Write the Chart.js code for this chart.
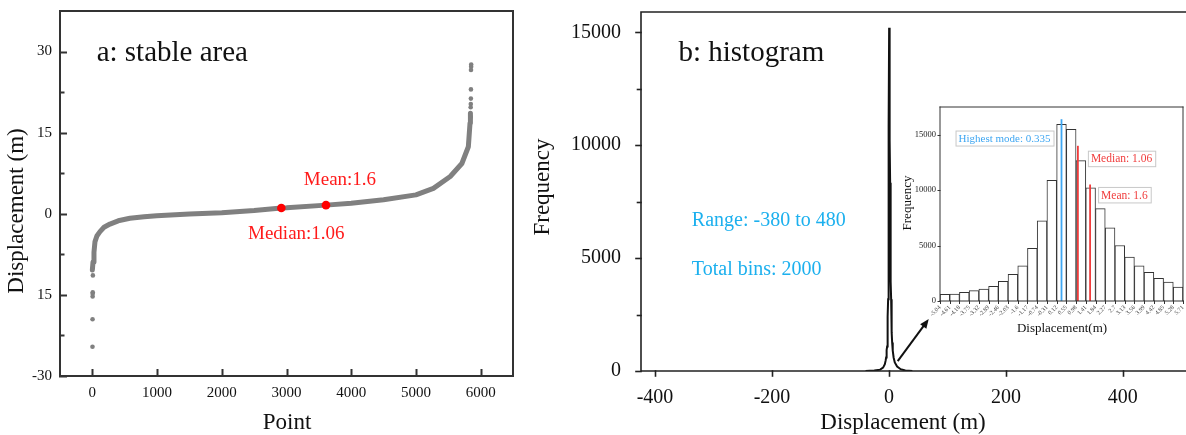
<!DOCTYPE html>
<html>
<head>
<meta charset="utf-8">
<script src="https://cdn.jsdelivr.net/npm/chart.js@4.4.0/dist/chart.umd.min.js"></script>
<style>
  html, body { margin: 0; padding: 0; background: #fff; }
  #wrap { position: relative; width: 1186px; height: 435px; overflow: hidden; background: #fff; }
  .box { position: absolute; }
</style>
</head>
<body>
<div id="wrap">
  <div class="box" style="left:0;top:0;width:520px;height:435px"><canvas id="stableChart"></canvas></div>
  <div class="box" style="left:520px;top:0;width:666px;height:435px"><canvas id="histChart"></canvas></div>
  <div class="box" style="left:880px;top:100px;width:306px;height:240px"><canvas id="insetChart"></canvas></div>
</div>
<script>
// ---- a: stable area (sorted displacement per point) ----
const curvePoint = [0, 10, 25, 40, 70, 118, 180, 272, 400, 580, 800, 994, 1500, 2000, 2500, 2920, 3000, 3610, 4000, 4500, 5000, 5270, 5530, 5710, 5810, 5836, 5842];
const curveDisp  = [-10.4, -8.9, -7.1, -5.2, -4.1, -3.3, -2.5, -1.9, -1.3, -0.83, -0.55, -0.35, -0.05, 0.2, 0.6, 1.06, 1.1, 1.6, 1.95, 2.6, 3.5, 4.7, 6.9, 9.3, 12.4, 16.8, 18.6];
const lowOutPoint  = [2, 3, 4, 5, 6, 8];
const lowOutDisp   = [-24.6, -19.5, -15.3, -14.8, -14.5, -11.4];
const highOutPoint = [5845, 5846, 5848, 5849, 5850, 5851, 5853, 5854];
const highOutDisp  = [17.9, 19.7, 20.3, 21.3, 23.0, 26.6, 27.2, 27.6];
const statNames = ['Median:1.06', 'Mean:1.6'];
const statPoint = [2920, 3610];
const statDisp  = [1.06, 1.6];
const pointTicks = [0, 1000, 2000, 3000, 4000, 5000, 6000];
const dispTicks = [-30, -15, 0, 15, 30];
const dispTickLabels = ['-30', '15', '0', '15', '30'];
const dispMinor = [-22.5, -7.5, 7.5, 22.5];

// ---- b: histogram, 2000 bins from -380 to 480 ----
const binEdges = [-5.04, -4.61, -4.18, -3.75, -3.32, -2.89, -2.46, -2.03, -1.6, -1.17, -0.74, -0.31, 0.12, 0.55, 0.98, 1.41, 1.84, 2.27, 2.7, 3.13, 3.56, 3.99, 4.42, 4.85, 5.28, 5.71];
const binFreq = [600, 630, 780, 930, 1080, 1320, 1770, 2400, 3180, 4740, 7230, 10890, 15930, 15480, 12660, 10200, 8340, 6600, 5010, 3960, 3180, 2580, 2040, 1710, 1260];
const mainPeakFreq = [600, 630, 780, 930, 1080, 1320, 1770, 2400, 3180, 4740, 7230, 10890, 15200, 15000, 12660, 10200, 8340, 6600, 5010, 3960, 3180, 2580, 2040, 1710, 1260];
const leftTailDisp  = [-40, -25, -15, -10, -7, -5.5];
const leftTailFreq  = [0, 20, 60, 150, 300, 480];
const rightTailDisp = [6.5, 8, 10, 14, 20, 28, 40];
const rightTailFreq = [900, 600, 380, 200, 80, 25, 0];
const histTicks = [-400, -200, 0, 200, 400];
const freqTicks = [0, 5000, 10000, 15000];
const freqMinor = [2500, 7500, 12500];
const markerNames  = ['Highest mode: 0.335', 'Median: 1.06', 'Mean: 1.6'];
const markerValues = [0.335, 1.06, 1.6];
const markerTops   = [16400, 14000, 10500];

const serif = '"Liberation Serif", "Times New Roman", serif';
const ink = '#111';

const binCenters = binEdges.slice(0, -1).map((e, i) => +((e + binEdges[i + 1]) / 2).toFixed(3));
const mainDisp = leftTailDisp.concat(binCenters, rightTailDisp);
const mainFreq = leftTailFreq.concat(mainPeakFreq, rightTailFreq);

// frame + tick marks drawn from the scales
const axisDecor = {
  id: 'axisDecor',
  afterDraw(chart, args, opts) {
    const ctx = chart.ctx;
    const { left, right, top, bottom } = chart.chartArea;
    ctx.save();
    ctx.strokeStyle = opts.color;
    ctx.lineWidth = opts.width;
    ctx.lineCap = 'square';
    (opts.ticks || []).forEach(t => {
      const scale = chart.scales[t.axis];
      const sign = t.dir === 'in' ? 1 : -1;
      const mark = (v, len) => {
        const p = Math.round(scale.getPixelForValue(v)) + 0.5;
        ctx.beginPath();
        if (scale.isHorizontal()) { ctx.moveTo(p, bottom); ctx.lineTo(p, bottom - sign * len); }
        else { ctx.moveTo(left, p); ctx.lineTo(left + sign * len, p); }
        ctx.stroke();
      };
      ctx.lineWidth = t.lineWidth || opts.width;
      scale.ticks.forEach(tk => mark(tk.value, t.len));
      (t.minor || []).forEach(v => mark(v, t.minorLen));
    });
    ctx.lineWidth = opts.width;
    ctx.beginPath();
    const s = opts.sides;
    if (s.includes('l')) { ctx.moveTo(left, top); ctx.lineTo(left, bottom); }
    if (s.includes('r')) { ctx.moveTo(right, top); ctx.lineTo(right, bottom); }
    if (s.includes('t')) { ctx.moveTo(left, top); ctx.lineTo(right, top); }
    if (s.includes('b')) { ctx.moveTo(left, bottom); ctx.lineTo(right, bottom); }
    ctx.stroke();
    ctx.restore();
  }
};

// free text, boxes and the arrow
const notes = {
  id: 'notes',
  afterDraw(chart, args, opts) {
    const ctx = chart.ctx;
    const xs = chart.scales.x, ys = chart.scales.y;
    if (opts.arrow) {
      const a = opts.arrow;
      const x0 = xs.getPixelForValue(a.from[0]), y0 = ys.getPixelForValue(a.from[1]);
      const x1 = xs.getPixelForValue(a.to[0]), y1 = ys.getPixelForValue(a.to[1]);
      const ang = Math.atan2(y1 - y0, x1 - x0);
      ctx.save();
      ctx.strokeStyle = ink; ctx.fillStyle = ink; ctx.lineWidth = 2;
      ctx.beginPath(); ctx.moveTo(x0, y0); ctx.lineTo(x1 - 6 * Math.cos(ang), y1 - 6 * Math.sin(ang)); ctx.stroke();
      ctx.beginPath();
      ctx.moveTo(x1, y1);
      ctx.lineTo(x1 - 10 * Math.cos(ang - 0.4), y1 - 10 * Math.sin(ang - 0.4));
      ctx.lineTo(x1 - 10 * Math.cos(ang + 0.4), y1 - 10 * Math.sin(ang + 0.4));
      ctx.closePath(); ctx.fill();
      ctx.restore();
    }
    (opts.items || []).forEach(n => {
      let px, py;
      if (n.px !== undefined) { px = n.px; py = n.py; }
      else { px = xs.getPixelForValue(n.x) + (n.dx || 0); py = ys.getPixelForValue(n.y) + (n.dy || 0); }
      ctx.save();
      ctx.font = n.size + 'px ' + serif;
      ctx.fillStyle = n.color || ink;
      ctx.textBaseline = 'middle';
      ctx.translate(px, py);
      if (n.rotate) ctx.rotate(n.rotate);
      let align = n.align || 'left';
      if (n.box) {
        const w = ctx.measureText(n.text).width;
        const pad = 3, h = n.size + 4;
        const bx = align === 'right' ? -w - 2 * pad : 0;
        ctx.fillStyle = '#fff';
        ctx.fillRect(bx, -h / 2, w + 2 * pad, h);
        ctx.strokeStyle = '#c8c8c8'; ctx.lineWidth = 1;
        ctx.strokeRect(bx + 0.5, -h / 2 + 0.5, w + 2 * pad, h);
        ctx.fillStyle = n.color;
        ctx.textAlign = 'left';
        ctx.fillText(n.text, bx + pad, 1);
      } else {
        ctx.textAlign = align;
        ctx.fillText(n.text, 0, 0);
      }
      ctx.restore();
    });
  }
};

Chart.register(axisDecor, notes);

const hiddenGrid = { display: false, drawTicks: false };
// fixed scale box, no label overhang padding
const fixBox = (w, h) => s => {
  if (w !== null) s.width = w;
  if (h !== null) s.height = h;
  s.paddingTop = 0; s.paddingBottom = 0; s.paddingLeft = 0; s.paddingRight = 0;
};
const plain = v => String(v);

// ---------- panel a ----------
new Chart(document.getElementById('stableChart'), {
  type: 'scatter',
  data: {
    datasets: [
      { data: statPoint.map((p, i) => ({ x: p, y: statDisp[i] })), pointRadius: 4.3, backgroundColor: '#ff0000', borderWidth: 0 },
      { data: lowOutPoint.map((p, i) => ({ x: p, y: lowOutDisp[i] })).concat(highOutPoint.map((p, i) => ({ x: p, y: highOutDisp[i] }))),
        pointRadius: 2.3, backgroundColor: '#808080', borderWidth: 0 },
      { data: curvePoint.map((p, i) => ({ x: p, y: curveDisp[i] })), showLine: true, borderColor: '#808080', borderWidth: 5,
        borderCapStyle: 'round', borderJoinStyle: 'round', pointRadius: 0, tension: 0 }
    ]
  },
  options: {
    responsive: true, maintainAspectRatio: false, animation: false, events: [],
    layout: { padding: { top: 11, right: 7, left: 0, bottom: 0 } },
    plugins: {
      legend: { display: false }, tooltip: { enabled: false },
      axisDecor: { color: '#333', width: 2, sides: 'lrtb',
        ticks: [ { axis: 'x', dir: 'in', len: 6 }, { axis: 'y', dir: 'in', len: 6, minor: dispMinor, minorLen: 3.5 } ] },
      notes: { items: [
        { text: 'a: stable area', x: 66, y: 29.7, size: 29 },
        { text: statNames[1], x: statPoint[1], y: statDisp[1], dx: 14, dy: -25, size: 19, color: '#ff1a1a', align: 'center' },
        { text: statNames[0], x: statPoint[0], y: statDisp[0], dx: 15, dy: 26, size: 19, color: '#ff1a1a', align: 'center' },
        { text: 'Displacement (m)', px: 17, py: 211, rotate: -Math.PI / 2, size: 23, align: 'center' },
        { text: 'Point', px: 287, py: 423, size: 23, align: 'center' }
      ] }
    },
    scales: {
      x: { type: 'linear', min: -500, max: 6500,
        afterBuildTicks: s => { s.ticks = pointTicks.map(v => ({ value: v })); },
        afterFit: fixBox(null, 59),
        grid: hiddenGrid, border: { display: false },
        ticks: { font: { family: serif, size: 15 }, color: ink, padding: 8, maxRotation: 0, autoSkip: false, callback: plain } },
      y: { type: 'linear', min: -30, max: 37.5,
        afterBuildTicks: s => { s.ticks = dispTicks.map(v => ({ value: v })); },
        afterFit: fixBox(60, null),
        grid: hiddenGrid, border: { display: false },
        ticks: { font: { family: serif, size: 15 }, color: ink, padding: 8, autoSkip: false,
          callback: v => dispTickLabels[dispTicks.indexOf(v)] } }
    }
  }
});

// ---------- panel b ----------
new Chart(document.getElementById('histChart'), {
  type: 'scatter',
  data: {
    datasets: [
      { data: mainDisp.map((d, i) => ({ x: d, y: mainFreq[i] })), showLine: true, borderColor: ink, borderWidth: 2,
        pointRadius: 0, tension: 0 }
    ]
  },
  options: {
    responsive: true, maintainAspectRatio: false, animation: false, events: [],
    layout: { padding: { top: 12, right: 0, left: 0, bottom: 0 } },
    plugins: {
      legend: { display: false }, tooltip: { enabled: false },
      axisDecor: { color: '#222', width: 1.6, sides: 'ltb',
        ticks: [ { axis: 'x', dir: 'out', len: 5 }, { axis: 'y', dir: 'out', len: 5, minor: freqMinor, minorLen: 3.5 } ] },
      notes: {
        arrow: { from: [15, 440], to: [68, 2300] },
        items: [
          { text: 'b: histogram', x: -360, y: 14080, size: 29 },
          { text: 'Range: -380 to 480', x: -337, y: 6660, size: 20, color: '#1cb0ee' },
          { text: 'Total bins: 2000', x: -337, y: 4500, size: 20, color: '#1cb0ee' },
          { text: 'Frequency', px: 23, py: 187, rotate: -Math.PI / 2, size: 23, align: 'center' },
          { text: 'Displacement (m)', px: 383, py: 423, size: 23, align: 'center' }
        ] }
    },
    scales: {
      x: { type: 'linear', min: -424, max: 508,
        afterBuildTicks: s => { s.ticks = histTicks.map(v => ({ value: v })); },
        afterFit: fixBox(null, 64),
        grid: hiddenGrid, border: { display: false },
        ticks: { font: { family: serif, size: 20 }, color: ink, padding: 15, maxRotation: 0, autoSkip: false, callback: plain } },
      y: { type: 'linear', min: 0, max: 15900,
        afterBuildTicks: s => { s.ticks = freqTicks.map(v => ({ value: v })); },
        afterFit: fixBox(121, null),
        grid: hiddenGrid, border: { display: false },
        ticks: { font: { family: serif, size: 20 }, color: ink, padding: 20, autoSkip: false, callback: plain } }
    }
  }
});

// ---------- inset ----------
const markerColors = ['#3ea6f2', '#f03c3c', '#f03c3c'];
new Chart(document.getElementById('insetChart'), {
  type: 'bar',
  data: {
    datasets: markerValues.map((v, i) => ({
      type: 'line', data: [{ x: v, y: 0 }, { x: v, y: markerTops[i] }], borderColor: markerColors[i], borderWidth: 1.8,
      pointRadius: 0
    })).concat([{
      type: 'bar', data: binCenters.map((c, i) => ({ x: c, y: binFreq[i] })), backgroundColor: '#fff', borderColor: '#333',
      borderWidth: 1, barPercentage: 1, categoryPercentage: 1
    }])
  },
  options: {
    responsive: true, maintainAspectRatio: false, animation: false, events: [],
    layout: { padding: { top: 7, right: 3, left: 0, bottom: 0 } },
    plugins: {
      legend: { display: false }, tooltip: { enabled: false },
      axisDecor: { color: '#333', width: 1, sides: 'lrtb',
        ticks: [ { axis: 'x', dir: 'out', len: 2.5 }, { axis: 'y', dir: 'out', len: 2 } ] },
      notes: { items: [
        { text: markerNames[0], x: markerValues[0], y: 14700, dx: -8, size: 11, color: markerColors[0], align: 'right', box: true },
        { text: markerNames[1], x: markerValues[1], y: 12860, dx: 10, size: 11.5, color: markerColors[1], box: true },
        { text: markerNames[2], x: markerValues[2], y: 9590, dx: 8, size: 11.5, color: markerColors[2], box: true },
        { text: 'Frequency', px: 28, py: 103, rotate: -Math.PI / 2, size: 13, align: 'center' },
        { text: 'Displacement(m)', px: 182, py: 229, size: 13, align: 'center' }
      ] }
    },
    scales: {
      x: { type: 'linear', min: -5.04, max: 5.71, offset: false,
        afterBuildTicks: s => { s.ticks = binEdges.map(v => ({ value: v })); },
        afterFit: fixBox(null, 39),
        grid: { display: false, drawTicks: false, offset: false }, border: { display: false },
        ticks: { font: { family: serif, size: 6 }, color: '#444', padding: 3, minRotation: 45, maxRotation: 45, autoSkip: false,
          callback: plain } },
      y: { type: 'linear', min: 0, max: 17500,
        afterBuildTicks: s => { s.ticks = freqTicks.map(v => ({ value: v })); },
        afterFit: fixBox(60, null),
        grid: hiddenGrid, border: { display: false },
        ticks: { font: { family: serif, size: 8.5 }, color: '#222', padding: 4, autoSkip: false, callback: plain } }
    }
  }
});
</script>
</body>
</html>
